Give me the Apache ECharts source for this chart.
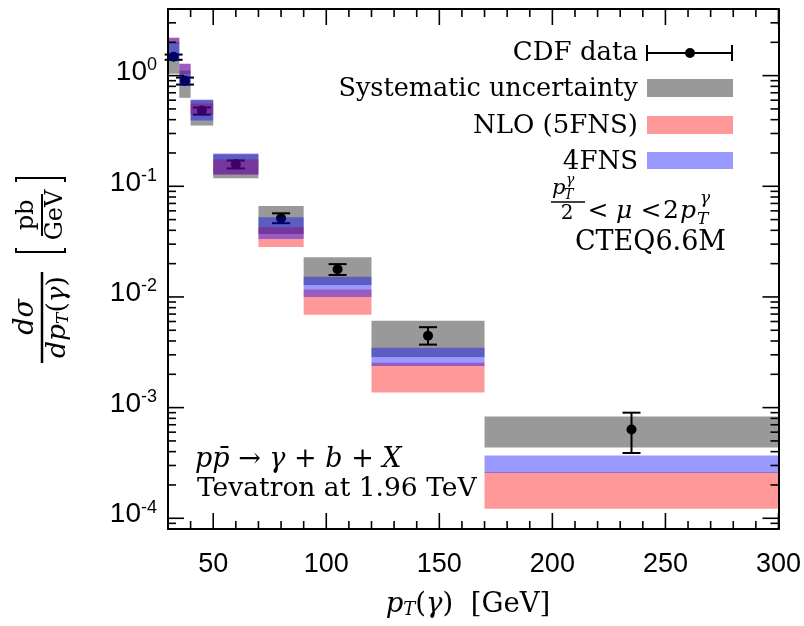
<!DOCTYPE html>
<html><head><meta charset="utf-8">
<script src="https://cdn.jsdelivr.net/npm/echarts@6/dist/echarts.min.js"></script>
<style>html,body{margin:0;padding:0;background:#fff}#c{width:804px;height:626px}</style>
</head><body><div id="c"></div>
<script>
// ---- data ----
const binLo = [30, 35, 40, 50, 70, 90, 120, 170];
const binHi = [35, 40, 50, 70, 90, 120, 170, 300];
const sysLo = [1.04, 0.63, 0.354, 0.118, 0.0371, 0.0128, 0.00286, 4.37e-4];
const sysHi = [2.02, 1.11, 0.60, 0.195, 0.0662, 0.0229, 0.00609, 8.3e-4];
const nloLo = [1.94, 1.04, 0.445, 0.128, 0.0282, 0.0069, 0.00137, 1.22e-4];
const nloHi = [2.2, 1.28, 0.56, 0.175, 0.0427, 0.0117, 0.00254, 2.6e-4];
const fnsLo = [1.36, 0.81, 0.393, 0.128, 0.0334, 0.0100, 0.00238, 2.56e-4];
const fnsHi = [2.2, 1.28, 0.607, 0.198, 0.0526, 0.0152, 0.00348, 3.7e-4];
const cdfX  = [32.5, 37.5, 45, 60, 80, 105, 145, 235];
const cdfY  = [1.48, 0.90, 0.484, 0.158, 0.0515, 0.0178, 0.00446, 6.35e-4];
const cdfLo = [1.39, 0.83, 0.445, 0.145, 0.0464, 0.0158, 0.00371, 3.89e-4];
const cdfHi = [1.55, 0.96, 0.515, 0.171, 0.0570, 0.0198, 0.00533, 9.0e-4];
const xMajorTicks = [50, 100, 150, 200, 250, 300];
const xMinorTicks = [40, 60, 70, 80, 90, 110, 120, 130, 140, 160, 170, 180, 190, 210, 220, 230, 240, 260, 270, 280, 290];
const yMajorTicks = [1e-4, 1e-3, 1e-2, 1e-1, 1];
const yMinorMult = [2, 3, 4, 5, 6, 7, 8, 9];
const X_MIN = 30, X_MAX = 300, Y_MIN = 8e-5, Y_MAX = 4;

const SERIF = 'DejaVu Serif';
const SANS = 'Liberation Sans';

const yMinorTicks = [9e-5];
yMajorTicks.forEach(d => yMinorMult.forEach(m => { const v = d * m; if (v < Y_MAX) yMinorTicks.push(v); }));

const chart = echarts.init(document.getElementById('c'), null, {renderer: 'canvas'});

function bandSeries(name, lo, hi, color, z) {
  return {
    type: 'custom', name, z, xAxisIndex: 0, yAxisIndex: 0,
    data: binLo.map((b, i) => [b, binHi[i], lo[i], hi[i]]),
    encode: {x: [0, 1], y: [2, 3]},
    renderItem(params, api) {
      const p0 = api.coord([api.value(0), api.value(3)]);
      const p1 = api.coord([api.value(1), api.value(2)]);
      return {type: 'rect', shape: {x: p0[0], y: p0[1], width: p1[0] - p0[0], height: p1[1] - p0[1]}, style: {fill: color}};
    }
  };
}

const tickData = [];
xMajorTicks.forEach(v => tickData.push([v, 1, 1, 0]));
xMinorTicks.forEach(v => tickData.push([v, 1, 0, 0]));
yMajorTicks.forEach(v => tickData.push([X_MIN, v, 1, 1]));
yMinorTicks.forEach(v => tickData.push([X_MIN, v, 0, 1]));

const tickSeries = {
  type: 'custom', z: 20, silent: true, clip: false,
  data: tickData, encode: {x: 0, y: 1},
  renderItem(params, api) {
    const major = api.value(2), isY = api.value(3);
    const len = major ? 16 : 8;
    const st = {stroke: '#000', lineWidth: 1.6};
    if (isY) {
      const v = api.value(1);
      const a = api.coord([X_MIN, v]), b = api.coord([X_MAX, v]);
      return {type: 'group', children: [
        {type: 'line', shape: {x1: a[0], y1: a[1], x2: a[0] + len, y2: a[1]}, style: st},
        {type: 'line', shape: {x1: b[0], y1: b[1], x2: b[0] - len, y2: b[1]}, style: st}
      ]};
    } else {
      const v = api.value(0);
      const a = api.coord([v, Y_MIN]), b = api.coord([v, Y_MAX]);
      return {type: 'group', children: [
        {type: 'line', shape: {x1: a[0], y1: a[1], x2: a[0], y2: a[1] - len}, style: st},
        {type: 'line', shape: {x1: b[0], y1: b[1], x2: b[0], y2: b[1] + len}, style: st}
      ]};
    }
  }
};

const cdfSeries = {
  type: 'custom', name: 'CDF data', z: 3,
  data: cdfX.map((x, i) => [x, cdfY[i], cdfLo[i], cdfHi[i]]),
  encode: {x: 0, y: [1, 2, 3]},
  renderItem(params, api) {
    const c = api.coord([api.value(0), api.value(1)]);
    const lo = api.coord([api.value(0), api.value(2)]);
    const hi = api.coord([api.value(0), api.value(3)]);
    const w = 9, st = {stroke: '#000', lineWidth: 2};
    return {type: 'group', children: [
      {type: 'line', shape: {x1: c[0], y1: lo[1], x2: c[0], y2: hi[1]}, style: st},
      {type: 'line', shape: {x1: c[0] - w, y1: lo[1], x2: c[0] + w, y2: lo[1]}, style: st},
      {type: 'line', shape: {x1: c[0] - w, y1: hi[1], x2: c[0] + w, y2: hi[1]}, style: st},
      {type: 'circle', shape: {cx: c[0], cy: c[1], r: 5}, style: {fill: '#000'}}
    ]};
  }
};

const it = {fontFamily: SERIF, fontStyle: 'italic', fontSize: 26.5, color: '#000'};
const rm = {fontFamily: SERIF, fontSize: 26.5, color: '#000'};
const it27 = {fontFamily: SERIF, fontStyle: 'italic', fontSize: 27.5, color: '#000'};
const rm27 = {fontFamily: SERIF, fontSize: 27.5, color: '#000'};
function txt(x, y, text, font, align, va) {
  return {type: 'text', x, y, z: 30, style: {text, fill: '#000', align: align || 'left', verticalAlign: va || 'middle', font}};
}

const graphics = [
  // legend
  {type: 'line', z: 30, shape: {x1: 647, y1: 53, x2: 732, y2: 53}, style: {stroke: '#000', lineWidth: 2}},
  {type: 'line', z: 30, shape: {x1: 647, y1: 45, x2: 647, y2: 61}, style: {stroke: '#000', lineWidth: 2}},
  {type: 'line', z: 30, shape: {x1: 732, y1: 45, x2: 732, y2: 61}, style: {stroke: '#000', lineWidth: 2}},
  {type: 'circle', z: 30, shape: {cx: 690, cy: 53, r: 5}, style: {fill: '#000'}},
  {type: 'rect', z: 30, shape: {x: 647, y: 79, width: 86, height: 18}, style: {fill: '#999999'}},
  {type: 'rect', z: 30, shape: {x: 647, y: 116, width: 86, height: 18}, style: {fill: '#ff9999'}},
  {type: 'rect', z: 30, shape: {x: 647, y: 152, width: 86, height: 17}, style: {fill: '#9999ff'}},
  txt(638, 53, 'CDF data', '26px ' + SERIF, 'right'),
  txt(638, 89, 'Systematic uncertainty', '25.5px ' + SERIF, 'right'),
  txt(638, 126, 'NLO (5FNS)', '26px ' + SERIF, 'right'),
  txt(638, 162, '4FNS', '26px ' + SERIF, 'right'),
  // scale annotation: p_T^γ/2 < μ < 2 p_T^γ
  txt(552, 189, 'p', 'italic 21px ' + SERIF),
  txt(564, 195, 'T', 'italic 14px ' + SERIF),
  txt(566, 180, 'γ', 'italic 14px ' + SERIF),
  {type: 'line', z: 30, shape: {x1: 551, y1: 202, x2: 585, y2: 202}, style: {stroke: '#000', lineWidth: 1.3}},
  txt(567, 214, '2', '20px ' + SERIF, 'center'),
  txt(598, 211, '<', '25px ' + SERIF, 'center'),
  txt(624, 211, 'μ', 'italic 25px ' + SERIF, 'center'),
  txt(651, 211, '<', '25px ' + SERIF, 'center'),
  txt(671, 211, '2', '25px ' + SERIF, 'center'),
  txt(680, 211, 'p', 'italic 25px ' + SERIF, 'left'),
  txt(697, 220, 'T', 'italic 17px ' + SERIF),
  txt(700, 199, 'γ', 'italic 17px ' + SERIF),
  txt(726, 243, 'CTEQ6.6M', '27px ' + SERIF, 'right'),
  // process annotation
  {type: 'text', x: 195, y: 460, z: 30, style: {text: '{i|pp\u0304}{r| → }{i|γ}{r| + }{i|b}{r| + }{i|X}', rich: {r: Object.assign({}, rm27, {fontSize: 27}), i: Object.assign({}, it27, {fontSize: 27})}, verticalAlign: 'middle', fill: '#000'}},
  txt(197, 489, 'Tevatron at 1.96 TeV', '26.5px ' + SERIF),
  // x axis title
  {type: 'text', x: 468, y: 605, z: 30, style: {text: '{i|p}{s|T}{r|(}{i|γ}{r|)  [GeV]}', rich: {i: it27, r: rm27, s: {fontFamily: SERIF, fontStyle: 'italic', fontSize: 18, verticalAlign: 'bottom', lineHeight: 18}}, align: 'center', verticalAlign: 'middle', fill: '#000'}},
  // y axis title (rotated)
  {type: 'group', x: 42, y: 270, rotation: Math.PI / 2, z: 30, children: [
    {type: 'line', shape: {x1: -93, y1: 0, x2: -2, y2: 0}, style: {stroke: '#000', lineWidth: 2.5}},
    {type: 'text', x: -47, y: -3, style: {text: 'dσ', font: 'italic 27px ' + SERIF, align: 'center', verticalAlign: 'bottom', fill: '#000'}},
    {type: 'text', x: -47, y: 3, style: {text: '{i|dp}{s|T}{r|(}{i|γ}{r|)}', rich: {i: it, r: rm, s: {fontFamily: SERIF, fontStyle: 'italic', fontSize: 17, verticalAlign: 'bottom', lineHeight: 18}}, align: 'center', verticalAlign: 'top', fill: '#000'}},
    {type: 'polyline', shape: {points: [[22, -26], [18, -26], [18, 23], [22, 23]]}, style: {stroke: '#000', lineWidth: 2, fill: 'none'}},
    {type: 'polyline', shape: {points: [[88, -26], [92, -26], [92, 23], [88, 23]]}, style: {stroke: '#000', lineWidth: 2, fill: 'none'}},
    {type: 'line', shape: {x1: 34, y1: 0, x2: 76, y2: 0}, style: {stroke: '#000', lineWidth: 2}},
    {type: 'text', x: 55, y: -3, style: {text: 'pb', font: '24px ' + SERIF, align: 'center', verticalAlign: 'bottom', fill: '#000'}},
    {type: 'text', x: 55, y: 2, style: {text: 'GeV', font: '24px ' + SERIF, align: 'center', verticalAlign: 'top', fill: '#000'}}
  ]}
];

const axisLineStyle = {show: true, lineStyle: {color: '#000', width: 2}};
const option = {
  backgroundColor: '#fff',
  animation: false,
  grid: {left: 168, right: 25, top: 9, bottom: 97, containLabel: false},
  xAxis: [
    {type: 'value', min: X_MIN, max: X_MAX, interval: 10, z: 10,
     axisLine: axisLineStyle, axisTick: {show: false}, splitLine: {show: false},
     axisLabel: {margin: 22, fontSize: 27, fontFamily: SANS, color: '#000',
       formatter: v => (v % 50 === 0 ? String(v) : '')}},
    {type: 'value', position: 'top', min: X_MIN, max: X_MAX, interval: 10, z: 10,
     axisLine: axisLineStyle, axisTick: {show: false}, splitLine: {show: false}, axisLabel: {show: false}}
  ],
  yAxis: [
    {type: 'log', logBase: 10, min: Y_MIN, max: Y_MAX, z: 10,
     axisLine: axisLineStyle, axisTick: {show: false}, splitLine: {show: false}, minorTick: {show: false},
     axisLabel: {margin: 11, color: '#000', verticalAlign: 'middle', padding: [0, 0, 9, 0],
       formatter: v => { const e = Math.log10(v); const r = Math.round(e); if (Math.abs(e - r) > 1e-6) return ''; return '{b|10}{s|' + r + '}'; },
       rich: {b: {fontSize: 28, fontFamily: SANS, color: '#000', lineHeight: 30, verticalAlign: 'bottom'},
              s: {fontSize: 18, fontFamily: SANS, color: '#000', lineHeight: 30, verticalAlign: 'top'}}}},
    {type: 'log', logBase: 10, position: 'right', min: Y_MIN, max: Y_MAX, z: 10,
     axisLine: axisLineStyle, axisTick: {show: false}, splitLine: {show: false}, axisLabel: {show: false}}
  ],
  series: [
    bandSeries('Systematic uncertainty', sysLo, sysHi, '#999999', 2),
    cdfSeries,
    bandSeries('NLO (5FNS)', nloLo, nloHi, 'rgba(255,0,0,0.4)', 4),
    bandSeries('4FNS', fnsLo, fnsHi, 'rgba(0,0,255,0.4)', 5),
    tickSeries
  ],
  graphic: {elements: graphics}
};
chart.setOption(option);
</script>
</body></html>
